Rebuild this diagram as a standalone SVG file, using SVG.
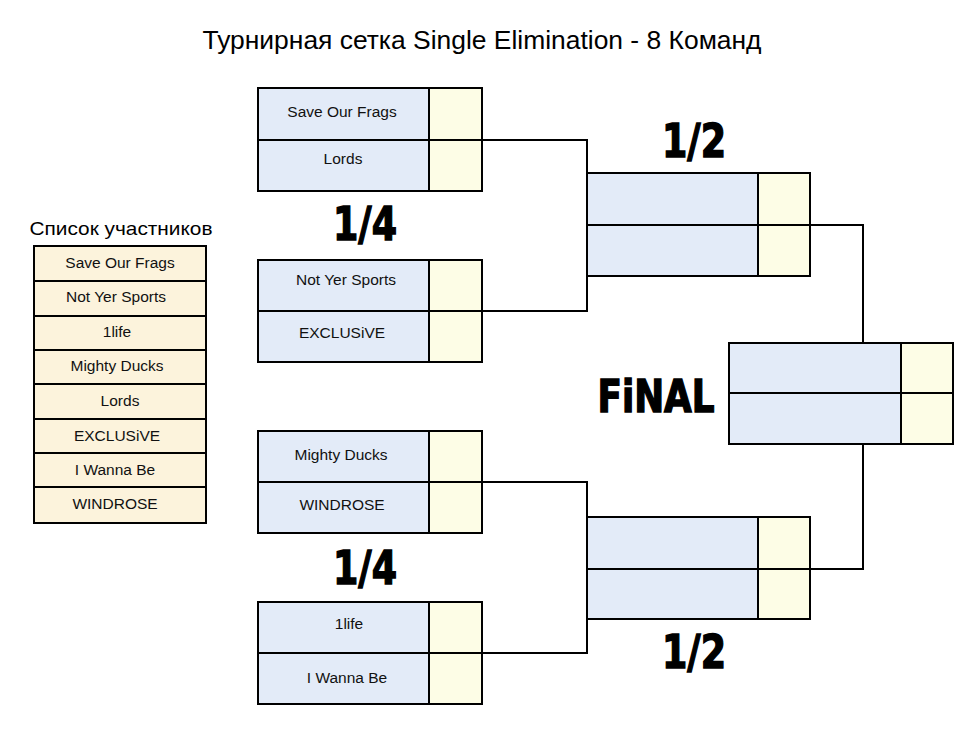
<svg xmlns="http://www.w3.org/2000/svg" width="975" height="729" viewBox="0 0 975 729">
<style>
.bx{stroke:#000;stroke-width:2}
.team{fill:#E3EBF8}
.score{fill:#FDFDE6}
.lst{fill:#FCF3DC;stroke:#000;stroke-width:2}
.t{font-family:"Liberation Sans",Arial,sans-serif;font-size:15.5px;fill:#111;text-anchor:middle}
.big{font-family:"DejaVu Sans",sans-serif;font-weight:bold;fill:#000;stroke:#000;stroke-width:1.5;text-anchor:middle}
.con{fill:none;stroke:#000;stroke-width:2}
</style>
<rect width="975" height="729" fill="#fff"/>
<text x="482" y="49" font-family="'Liberation Sans',Arial,sans-serif" font-size="26" fill="#000" text-anchor="middle" textLength="559" lengthAdjust="spacingAndGlyphs">Турнирная сетка Single Elimination - 8 Команд</text>

<g id="participants">
<text x="121" y="235" font-family="'Liberation Sans',Arial,sans-serif" font-size="19" fill="#000" text-anchor="middle" textLength="183" lengthAdjust="spacingAndGlyphs">Список участников</text>
<rect class="lst" x="34" y="246" width="172" height="35"/>
<rect class="lst" x="34" y="281" width="172" height="35"/>
<rect class="lst" x="34" y="316" width="172" height="34"/>
<rect class="lst" x="34" y="350" width="172" height="34"/>
<rect class="lst" x="34" y="384" width="172" height="35"/>
<rect class="lst" x="34" y="419" width="172" height="34"/>
<rect class="lst" x="34" y="453" width="172" height="34"/>
<rect class="lst" x="34" y="487" width="172" height="36"/>
<text class="t" x="120" y="268">Save Our Frags</text>
<text class="t" x="116" y="302">Not Yer Sports</text>
<text class="t" x="117" y="337">1life</text>
<text class="t" x="117" y="371">Mighty Ducks</text>
<text class="t" x="120" y="406">Lords</text>
<text class="t" x="117" y="441">EXCLUSiVE</text>
<text class="t" x="115" y="475">I Wanna Be</text>
<text class="t" x="115" y="509">WINDROSE</text>
</g>

<g id="connectors">
<polyline class="con" points="482,140 587,140 587,311 482,311"/>
<polyline class="con" points="482,482 587,482 587,653 482,653"/>
<polyline class="con" points="810,225 863,225 863,569 810,569"/>
</g>

<g id="qf1">
<rect class="bx team" x="258" y="88" width="171" height="52"/>
<rect class="bx team" x="258" y="140" width="171" height="51"/>
<rect class="bx score" x="429" y="88" width="53" height="52"/>
<rect class="bx score" x="429" y="140" width="53" height="51"/>
<text class="t" x="342" y="117">Save Our Frags</text>
<text class="t" x="343" y="164">Lords</text>
</g>
<g id="qf2">
<rect class="bx team" x="258" y="260" width="171" height="51"/>
<rect class="bx team" x="258" y="311" width="171" height="51"/>
<rect class="bx score" x="429" y="260" width="53" height="51"/>
<rect class="bx score" x="429" y="311" width="53" height="51"/>
<text class="t" x="346" y="285">Not Yer Sports</text>
<text class="t" x="342" y="338">EXCLUSiVE</text>
</g>
<g id="qf3">
<rect class="bx team" x="258" y="431" width="171" height="51"/>
<rect class="bx team" x="258" y="482" width="171" height="51"/>
<rect class="bx score" x="429" y="431" width="53" height="51"/>
<rect class="bx score" x="429" y="482" width="53" height="51"/>
<text class="t" x="341" y="460">Mighty Ducks</text>
<text class="t" x="342" y="510">WINDROSE</text>
</g>
<g id="qf4">
<rect class="bx team" x="258" y="602" width="171" height="51"/>
<rect class="bx team" x="258" y="653" width="171" height="51"/>
<rect class="bx score" x="429" y="602" width="53" height="51"/>
<rect class="bx score" x="429" y="653" width="53" height="51"/>
<text class="t" x="349" y="629">1life</text>
<text class="t" x="347" y="683">I Wanna Be</text>
</g>

<g id="sf1">
<rect class="bx team" x="587" y="173" width="171" height="52"/>
<rect class="bx team" x="587" y="225" width="171" height="51"/>
<rect class="bx score" x="758" y="173" width="52" height="52"/>
<rect class="bx score" x="758" y="225" width="52" height="51"/>
</g>
<g id="sf2">
<rect class="bx team" x="587" y="517" width="171" height="52"/>
<rect class="bx team" x="587" y="569" width="171" height="50"/>
<rect class="bx score" x="758" y="517" width="52" height="52"/>
<rect class="bx score" x="758" y="569" width="52" height="50"/>
</g>
<g id="final">
<rect class="bx team" x="729" y="343" width="172" height="50"/>
<rect class="bx team" x="729" y="393" width="172" height="51"/>
<rect class="bx score" x="901" y="343" width="52" height="50"/>
<rect class="bx score" x="901" y="393" width="52" height="51"/>
</g>

<g id="labels">
<text class="big" x="365" y="240" font-size="46" textLength="64" lengthAdjust="spacingAndGlyphs">1/4</text>
<text class="big" x="365" y="584" font-size="46" textLength="64" lengthAdjust="spacingAndGlyphs">1/4</text>
<text class="big" x="694" y="157" font-size="46" textLength="64" lengthAdjust="spacingAndGlyphs">1/2</text>
<text class="big" x="694" y="668" font-size="46" textLength="64" lengthAdjust="spacingAndGlyphs">1/2</text>
<text class="big" x="656" y="412" font-size="44" textLength="117" lengthAdjust="spacingAndGlyphs">FiNAL</text>
</g>
</svg>
